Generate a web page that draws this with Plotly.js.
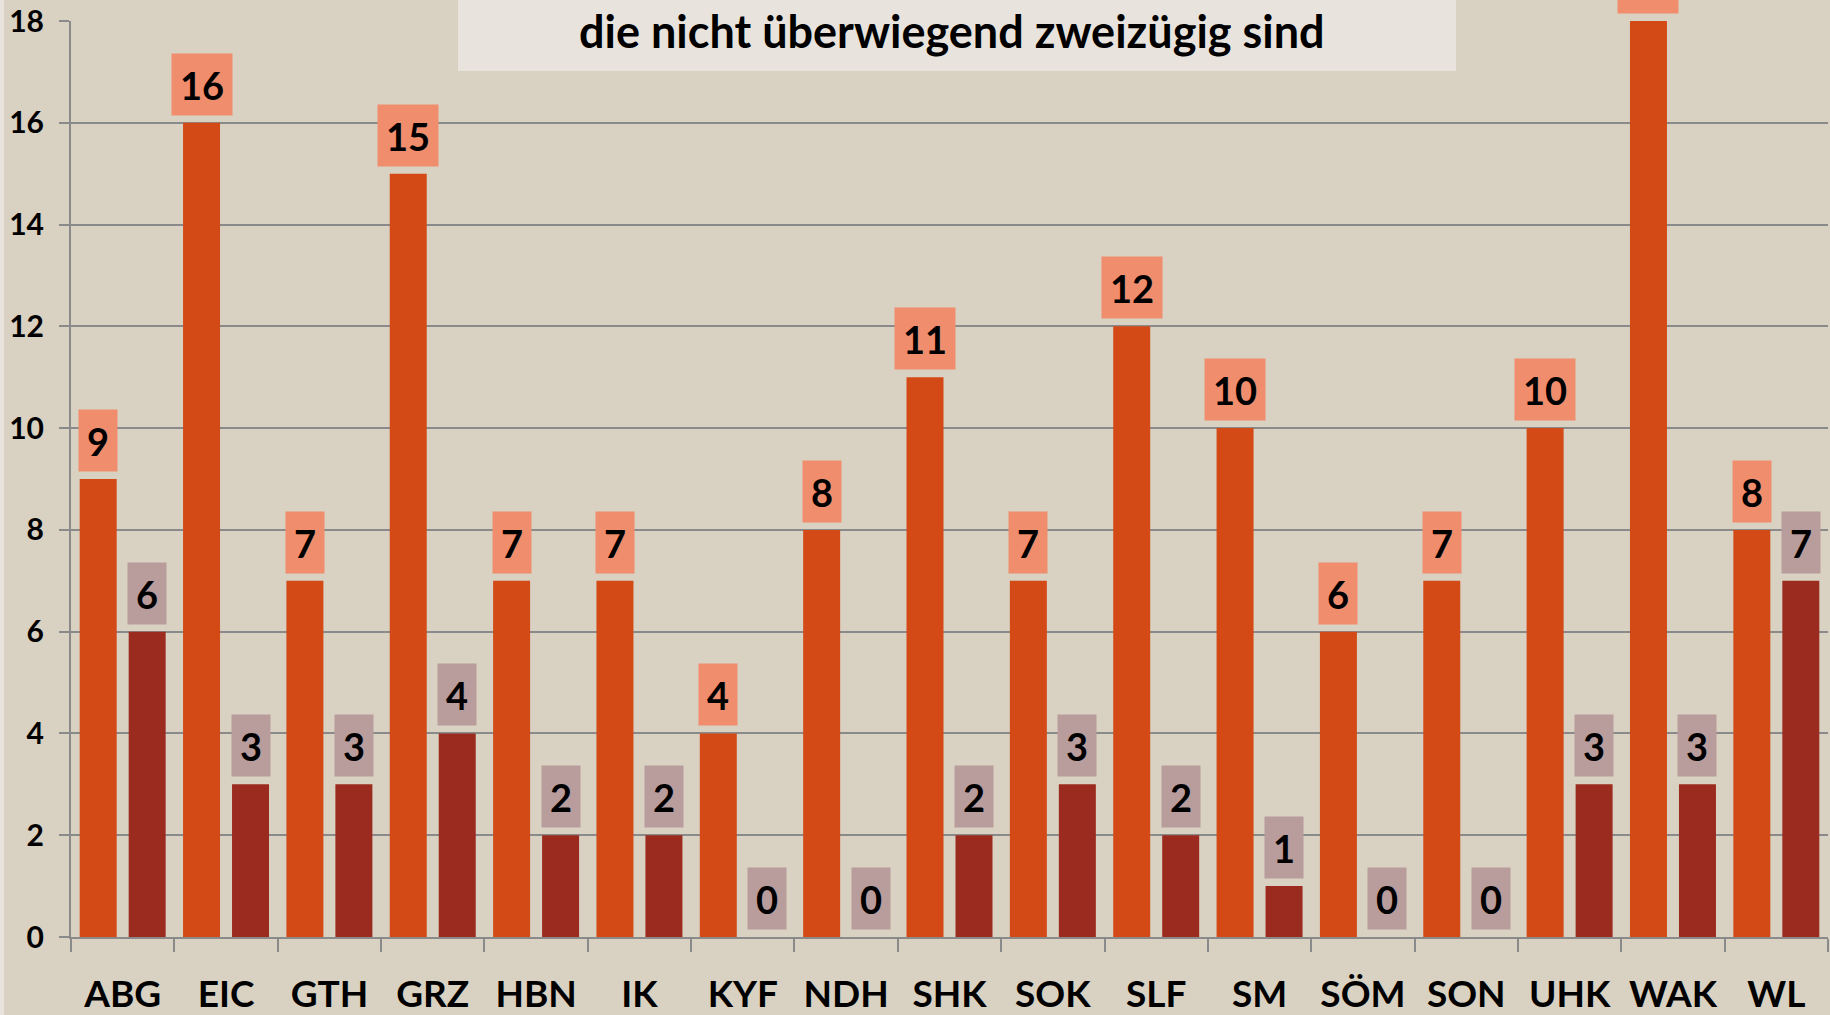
<!DOCTYPE html>
<html>
<head>
<meta charset="utf-8">
<script src="https://cdn.plot.ly/plotly-3.0.1.min.js"></script>
<style>html,body{margin:0;padding:0;background:#D9D1C1;}#chart{width:1830px;height:1015px;}</style>
</head>
<body>
<div id="chart"></div>
<script>
const categories = ['ABG','EIC','GTH','GRZ','HBN','IK','KYF','NDH','SHK','SOK','SLF','SM','SÖM','SON','UHK','WAK','WL'];
const seriesA = [9,16,7,15,7,7,4,8,11,7,12,10,6,7,10,18,8];
const seriesB = [6,3,3,4,2,2,0,0,2,3,2,1,0,0,3,3,7];
const titleLine = 'die nicht überwiegend zweizügig sind';
const yTicks = [0,2,4,6,8,10,12,14,16,18];

const W = 1830, H = 1015;
const M = {l: 71, r: 2, t: 21, b: 78};
const plotW = W - M.l - M.r, plotH = H - M.t - M.b;
const bargap = 0.052;
const catW = plotW / categories.length;
const shift = catW * (1 - bargap) / 4;
const FONT = 'Lato, "Open Sans", sans-serif';

function labelAnns(vals, sign, bg) {
  return vals.map((v, i) => ({
    x: categories[i], y: v, xref: 'x', yref: 'y',
    text: String(v), showarrow: false,
    xanchor: 'center', yanchor: 'bottom',
    xshift: sign * shift, yshift: 7,
    width: 16 + 22 * String(v).length, height: 61,
    bgcolor: bg, borderpad: 0,
    font: {family: FONT, size: 38, color: '#000', weight: 'bold'}
  }));
}

const px2x = p => (p - M.l) / plotW;
const py2y = p => (H - M.b - p) / plotH;

const data = [
  {type: 'bar', x: categories, y: seriesA, marker: {color: '#D44A17'}, hoverinfo: 'x+y'},
  {type: 'bar', x: categories, y: seriesB, marker: {color: '#9B2B1F'}, hoverinfo: 'x+y'}
];

const layout = {
  width: W, height: H,
  margin: M,
  paper_bgcolor: '#D9D1C1', plot_bgcolor: '#D9D1C1',
  showlegend: false,
  barmode: 'group', bargap: bargap, bargroupgap: 0.245,
  xaxis: {
    type: 'category', showgrid: false, showline: true, linecolor: '#8A8A8A', linewidth: 2,
    ticks: 'outside', tickson: 'boundaries', ticklen: 13, tickwidth: 2, tickcolor: '#8A8A8A',
    tickfont: {family: FONT, size: 37, color: '#000', weight: 'bold'},
    ticklabelstandoff: 24
  },
  yaxis: {
    range: [0, 18], tickvals: yTicks, showgrid: true, gridcolor: '#8A8A8A', gridwidth: 2,
    zeroline: false, showline: true, linecolor: '#8A8A8A', linewidth: 2,
    ticks: 'outside', ticklen: 10, tickwidth: 2, tickcolor: '#8A8A8A',
    tickfont: {family: FONT, size: 30, color: '#000', weight: 'bold'},
    ticklabelstandoff: 9
  },
  shapes: [
    {type: 'rect', xref: 'paper', yref: 'paper', layer: 'above',
     x0: px2x(458), x1: px2x(1456), y0: py2y(71), y1: py2y(-5),
     fillcolor: '#E8E4DD', line: {width: 0}},
    {type: 'rect', xref: 'paper', yref: 'paper', layer: 'above',
     x0: px2x(-2), x1: px2x(4), y0: py2y(H + 2), y1: py2y(-2),
     fillcolor: '#E8E4DD', line: {width: 0}}
  ],
  annotations: [
    ...labelAnns(seriesA, -1, '#F08D6D'),
    ...labelAnns(seriesB, 1, '#B99C9C'),
    {xref: 'paper', yref: 'paper', x: px2x(952), y: py2y(31), xanchor: 'center', yanchor: 'middle',
     text: titleLine, showarrow: false,
     font: {family: FONT, size: 45, color: '#000', weight: 'bold'}}
  ]
};

Plotly.newPlot('chart', data, layout, {displayModeBar: false, staticPlot: true});
</script>
</body>
</html>
